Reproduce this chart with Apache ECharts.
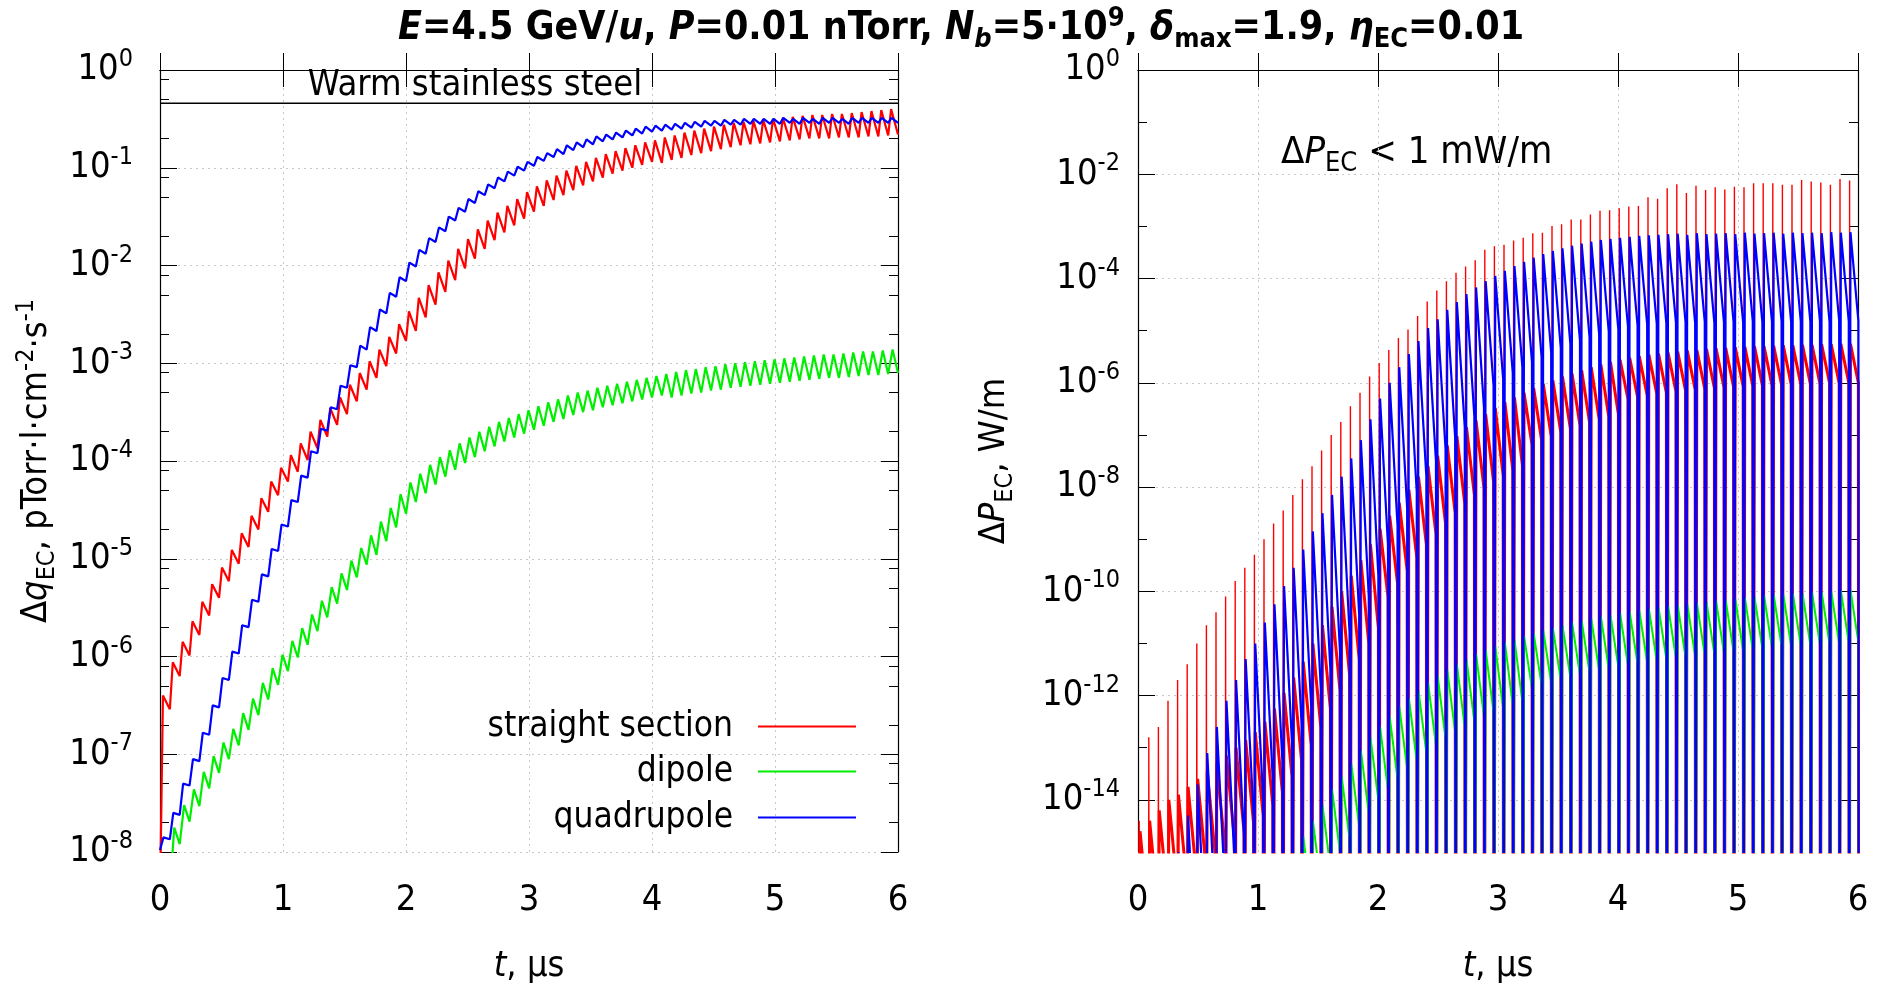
<!DOCTYPE html>
<html>
<head>
<meta charset="utf-8">
<script src="https://cdn.jsdelivr.net/npm/echarts@6/dist/echarts.min.js"></script>
<style>
  html, body { margin: 0; padding: 0; background: #fff; }
  #chart { width: 1886px; height: 990px; }
</style>
</head>
<body>
<div id="chart"></div>
<script>
// Bunch train: one bunch passage every 0.08 µs, 75 bunches over 6 µs.
const T = 0.08;
const ZERO = -20;            // log10 stand-in for zero power (below the plotted range)
const warmSteel = -0.34;     // log10 of the warm stainless steel reference level

// ---- Left panel: log10(Δq_EC), value at the top of each bump and just before the next bunch ----
const ssStart = -8.5, dipStart = -8.8, quadStart = -7.98;
const ssTop = [
  -6.40,-6.06,-5.85,-5.64,-5.44,-5.26,-5.09,-4.91,-4.74,-4.56,
  -4.38,-4.21,-4.07,-3.94,-3.82,-3.70,-3.58,-3.46,-3.35,-3.22,
  -3.10,-2.98,-2.86,-2.73,-2.60,-2.47,-2.33,-2.20,-2.07,-1.95,
  -1.83,-1.73,-1.63,-1.54,-1.46,-1.39,-1.32,-1.25,-1.19,-1.13,
  -1.08,-1.03,-0.98,-0.94,-0.90,-0.86,-0.83,-0.80,-0.77,-0.74,
  -0.72,-0.69,-0.67,-0.64,-0.62,-0.60,-0.58,-0.56,-0.54,-0.53,
  -0.52,-0.51,-0.50,-0.49,-0.48,-0.47,-0.46,-0.46,-0.45,-0.45,
  -0.44,-0.43,-0.42,-0.41,-0.40];
const ssLow = [
  -6.54,-6.20,-5.99,-5.78,-5.58,-5.40,-5.23,-5.05,-4.88,-4.70,
  -4.52,-4.35,-4.21,-4.11,-3.99,-3.87,-3.75,-3.63,-3.52,-3.39,
  -3.27,-3.15,-3.03,-2.90,-2.77,-2.67,-2.53,-2.40,-2.27,-2.15,
  -2.03,-1.93,-1.83,-1.74,-1.66,-1.59,-1.52,-1.45,-1.39,-1.33,
  -1.28,-1.23,-1.18,-1.14,-1.10,-1.06,-1.03,-1.00,-0.97,-0.94,
  -0.95,-0.92,-0.90,-0.87,-0.85,-0.83,-0.81,-0.79,-0.77,-0.76,
  -0.75,-0.74,-0.73,-0.72,-0.71,-0.70,-0.70,-0.70,-0.69,-0.69,
  -0.69,-0.68,-0.68,-0.67,-0.66];
const dipTop = [
  -8.60,-7.75,-7.52,-7.36,-7.18,-7.02,-6.88,-6.74,-6.58,-6.43,
  -6.27,-6.12,-5.98,-5.84,-5.71,-5.57,-5.43,-5.29,-5.15,-5.02,
  -4.89,-4.76,-4.62,-4.48,-4.34,-4.22,-4.13,-4.04,-3.96,-3.89,
  -3.82,-3.76,-3.70,-3.65,-3.60,-3.56,-3.52,-3.48,-3.44,-3.40,
  -3.37,-3.33,-3.30,-3.28,-3.25,-3.23,-3.21,-3.19,-3.17,-3.15,
  -3.13,-3.11,-3.09,-3.07,-3.06,-3.04,-3.03,-3.01,-3.00,-2.99,
  -2.98,-2.97,-2.96,-2.95,-2.94,-2.93,-2.92,-2.91,-2.91,-2.90,
  -2.89,-2.88,-2.88,-2.87,-2.86];
const dipLow = [
  -8.40,-7.92,-7.69,-7.53,-7.35,-7.19,-7.05,-6.91,-6.75,-6.60,
  -6.44,-6.29,-6.15,-6.01,-5.88,-5.74,-5.60,-5.46,-5.32,-5.19,
  -5.06,-4.96,-4.82,-4.68,-4.54,-4.42,-4.33,-4.24,-4.16,-4.09,
  -4.02,-3.96,-3.90,-3.85,-3.80,-3.76,-3.72,-3.68,-3.64,-3.60,
  -3.57,-3.53,-3.50,-3.48,-3.45,-3.43,-3.41,-3.39,-3.37,-3.35,
  -3.33,-3.35,-3.33,-3.31,-3.30,-3.28,-3.27,-3.25,-3.24,-3.23,
  -3.22,-3.21,-3.20,-3.19,-3.18,-3.17,-3.16,-3.15,-3.15,-3.14,
  -3.13,-3.12,-3.12,-3.11,-3.10];
const quadTop = [
  -7.85,-7.60,-7.30,-7.05,-6.78,-6.50,-6.22,-5.95,-5.68,-5.42,
  -5.16,-4.90,-4.65,-4.40,-4.15,-3.90,-3.67,-3.45,-3.23,-3.02,
  -2.82,-2.63,-2.45,-2.28,-2.12,-1.97,-1.84,-1.72,-1.61,-1.50,
  -1.41,-1.32,-1.24,-1.17,-1.10,-1.04,-0.99,-0.94,-0.89,-0.85,
  -0.81,-0.77,-0.74,-0.71,-0.68,-0.66,-0.64,-0.62,-0.60,-0.58,
  -0.57,-0.56,-0.55,-0.54,-0.53,-0.52,-0.52,-0.51,-0.51,-0.50,
  -0.50,-0.50,-0.50,-0.49,-0.50,-0.49,-0.50,-0.49,-0.49,-0.50,
  -0.49,-0.49,-0.49,-0.49,-0.49];
const quadLow = [
  -7.87,-7.62,-7.32,-7.07,-6.80,-6.52,-6.24,-5.97,-5.70,-5.44,
  -5.18,-4.92,-4.67,-4.42,-4.17,-3.92,-3.69,-3.47,-3.25,-3.04,
  -2.86,-2.67,-2.49,-2.32,-2.16,-2.01,-1.88,-1.76,-1.65,-1.54,
  -1.45,-1.36,-1.28,-1.21,-1.14,-1.08,-1.03,-0.98,-0.93,-0.89,
  -0.86,-0.82,-0.79,-0.76,-0.73,-0.71,-0.69,-0.67,-0.65,-0.63,
  -0.62,-0.61,-0.60,-0.59,-0.58,-0.57,-0.57,-0.56,-0.56,-0.55,
  -0.55,-0.55,-0.55,-0.54,-0.55,-0.54,-0.55,-0.54,-0.54,-0.55,
  -0.54,-0.54,-0.54,-0.54,-0.54];

// ---- Right panel: log10(ΔP_EC) per bunch ----
const ssSpike = [
  -14.4,-12.8,-12.6,-12.1,-11.7,-11.4,-11.0,-10.65,-10.4,-10.1,
  -9.8,-9.55,-9.3,-9.0,-8.7,-8.45,-8.15,-7.85,-7.6,-7.3,
  -7.0,-6.75,-6.45,-6.19,-5.88,-5.62,-5.37,-5.14,-4.98,-4.72,
  -4.44,-4.23,-4.05,-3.89,-3.77,-3.65,-3.45,-3.38,-3.35,-3.27,
  -3.22,-3.13,-3.12,-2.99,-2.96,-2.87,-2.87,-2.77,-2.70,-2.69,
  -2.65,-2.62,-2.61,-2.44,-2.47,-2.27,-2.19,-2.36,-2.22,-2.30,
  -2.25,-2.29,-2.24,-2.25,-2.17,-2.17,-2.17,-2.20,-2.20,-2.11,
  -2.14,-2.16,-2.20,-2.09,-2.12];
const ssBodyTop = [
  -14.6,-14.4,-14.2,-14.0,-13.9,-13.75,-13.6,-13.45,-13.3,-13.15,
  -13.0,-12.85,-12.7,-12.5,-12.25,-11.95,-11.65,-11.35,-11.0,-10.65,
  -10.3,-10.0,-9.7,-9.4,-9.1,-8.8,-8.55,-8.3,-8.05,-7.8,
  -7.6,-7.4,-7.2,-7.02,-6.85,-6.72,-6.6,-6.48,-6.37,-6.28,
  -6.19,-6.1,-6.02,-5.95,-5.88,-5.82,-5.76,-5.7,-5.65,-5.6,
  -5.56,-5.52,-5.49,-5.46,-5.44,-5.42,-5.40,-5.38,-5.37,-5.35,
  -5.34,-5.33,-5.32,-5.31,-5.30,-5.30,-5.29,-5.28,-5.28,-5.27,
  -5.27,-5.26,-5.26,-5.25,-5.25];
const ssBodyLow = [
  -16.2,-16.0,-15.8,-15.6,-15.5,-15.35,-15.2,-15.05,-14.9,-14.75,
  -14.6,-14.45,-14.3,-14.1,-13.85,-13.55,-13.25,-12.95,-12.6,-12.25,
  -11.9,-11.6,-11.3,-11.0,-10.7,-10.1,-9.85,-9.6,-9.35,-9.1,
  -8.9,-8.7,-8.5,-8.32,-8.15,-8.02,-7.9,-7.78,-7.67,-7.58,
  -7.19,-7.1,-7.02,-6.95,-6.88,-6.82,-6.76,-6.7,-6.65,-6.6,
  -6.31,-6.27,-6.24,-6.21,-6.19,-6.17,-6.15,-6.13,-6.12,-6.10,
  -6.09,-6.08,-6.07,-6.06,-6.05,-6.05,-6.04,-6.03,-6.03,-6.02,
  -6.02,-6.01,-6.01,-6.00,-6.00];
const dipPTop = [
  -18,-18,-18,-18,-18,-18,-18,-17.5,-17,-16.7,
  -16.4,-16.1,-15.9,-15.7,-15.5,-15.3,-15.0,-14.7,-14.4,-14.1,
  -13.8,-13.55,-13.3,-13.05,-12.8,-12.6,-12.4,-12.2,-12.05,-11.9,
  -11.75,-11.62,-11.5,-11.4,-11.3,-11.2,-11.12,-11.05,-10.98,-10.92,
  -10.86,-10.8,-10.75,-10.7,-10.65,-10.6,-10.56,-10.52,-10.48,-10.45,
  -10.42,-10.39,-10.36,-10.33,-10.3,-10.28,-10.26,-10.24,-10.22,-10.2,
  -10.18,-10.16,-10.14,-10.12,-10.1,-10.08,-10.06,-10.05,-10.04,-10.03,
  -10.02,-10.01,-10.0,-9.98,-9.97];
const dipPLow = [
  -19.2,-19.2,-19.2,-19.2,-19.2,-19.2,-19.2,-18.7,-18.2,-17.9,
  -17.6,-17.3,-17.1,-16.9,-16.7,-16.5,-16.2,-15.9,-15.6,-15.3,
  -15.0,-14.75,-14.5,-14.25,-14.0,-13.8,-13.6,-13.4,-13.25,-13.1,
  -12.95,-12.82,-12.7,-12.6,-12.5,-12.4,-12.32,-12.25,-12.18,-12.12,
  -11.86,-11.8,-11.75,-11.7,-11.65,-11.6,-11.56,-11.52,-11.48,-11.45,
  -11.42,-11.39,-11.36,-11.33,-11.3,-11.28,-11.26,-11.24,-11.22,-11.2,
  -11.18,-11.16,-11.14,-11.12,-11.1,-11.08,-11.06,-11.05,-11.04,-11.03,
  -11.02,-11.01,-11.0,-10.98,-10.97];
const quadPTop = [
  -17.0,-16.5,-16.0,-15.5,-15.0,-14.3,-13.7,-13.1,-12.6,-12.1,
  -11.7,-11.3,-11.0,-10.6,-10.25,-9.9,-9.55,-9.2,-8.85,-8.5,
  -8.15,-7.8,-7.45,-7.1,-6.7,-6.3,-6.0,-5.7,-5.45,-5.2,
  -4.95,-4.78,-4.6,-4.45,-4.3,-4.17,-4.05,-3.95,-3.85,-3.76,
  -3.68,-3.6,-3.53,-3.47,-3.42,-3.37,-3.33,-3.29,-3.26,-3.24,
  -3.22,-3.2,-3.18,-3.17,-3.16,-3.15,-3.14,-3.16,-3.13,-3.15,
  -3.14,-3.13,-3.15,-3.12,-3.14,-3.13,-3.12,-3.14,-3.12,-3.13,
  -3.12,-3.13,-3.11,-3.12,-3.11];
const quadPLow = [
  -20,-19.5,-19,-18.5,-18,-17.3,-16.7,-16.1,-15.6,-15.1,
  -14.7,-14.3,-14.0,-13.6,-13.25,-12.9,-12.55,-12.2,-11.85,-11.5,
  -11.15,-10.8,-10.45,-10.1,-9.7,-9.1,-8.75,-8.4,-8.1,-7.8,
  -7.5,-7.28,-7.05,-6.85,-6.65,-6.47,-6.05,-5.93,-5.81,-5.7,
  -5.6,-5.5,-5.41,-5.33,-5.26,-5.19,-5.13,-5.07,-5.02,-4.98,
  -4.92,-4.9,-4.88,-4.87,-4.86,-4.85,-4.84,-4.86,-4.83,-4.85,
  -4.84,-4.83,-4.85,-4.82,-4.84,-4.83,-4.82,-4.84,-4.82,-4.83,
  -4.82,-4.83,-4.81,-4.82,-4.81];

// Tick labels
const qTicks = [0, -1, -2, -3, -4, -5, -6, -7, -8];
const pTicks = [0, -2, -4, -6, -8, -10, -12, -14];
const pOddTicks = [-1, -3, -5, -7, -9, -11, -13];

// ---- Build line data ----
// Left panel: rise from the previous low to the bump top, then relax to the next low.
function bumpTrain(start, tops, lows, rise) {
  const pts = [[0, start]];
  tops.forEach((v, i) => {
    const t = i * T;
    if (i > 0) pts.push([t, lows[i - 1]]);
    pts.push([t + rise * T, v]);
  });
  pts.push([tops.length * T, lows[lows.length - 1]]);
  return pts;
}
// Right panel: each bunch period follows a pattern of [time offset, value source].
function pulseTrain(n, pattern) {
  const pts = [];
  for (let i = 0; i < n; i++) {
    const t = i * T;
    pattern.forEach(([dt, src]) => pts.push([t + dt, typeof src === 'number' ? src : src[i]]));
  }
  return pts;
}

const FONT = "'DejaVu Sans Condensed','Liberation Sans Narrow','DejaVu Sans',sans-serif";
const RED = '#ff0000', GREEN = '#00ee00', BLUE = '#0000ff';

const tickRich = {
  b: { fontSize: 36, fontFamily: FONT, color: '#000', lineHeight: 46 },
  s: { fontSize: 25, fontFamily: FONT, color: '#000', verticalAlign: 'top', lineHeight: 30 }
};
const nameRich = {
  n: { fontSize: 36, fontFamily: FONT, color: '#000', lineHeight: 46 },
  d: { fontSize: 36, fontFamily: FONT, color: '#000', lineHeight: 46 },
  i: { fontSize: 36, fontFamily: FONT, color: '#000', fontStyle: 'italic', lineHeight: 46 },
  sub: { fontSize: 25, fontFamily: FONT, color: '#000', verticalAlign: 'bottom', lineHeight: 34 },
  sup: { fontSize: 25, fontFamily: FONT, color: '#000', verticalAlign: 'top', lineHeight: 30 }
};
const noteRich = {
  n: { fontSize: 38, fontFamily: FONT, color: '#000', lineHeight: 48 },
  i: { fontSize: 38, fontFamily: FONT, color: '#000', fontStyle: 'italic', lineHeight: 48 },
  sub: { fontSize: 27, fontFamily: FONT, color: '#000', verticalAlign: 'bottom', lineHeight: 34 }
};
const titleRich = {
  b: { fontSize: 39, fontFamily: FONT, fontWeight: 'bold', color: '#000', lineHeight: 48 },
  i: { fontSize: 39, fontFamily: FONT, fontWeight: 'bold', fontStyle: 'italic', color: '#000', lineHeight: 48 },
  sub: { fontSize: 27, fontFamily: FONT, fontWeight: 'bold', color: '#000', verticalAlign: 'bottom', lineHeight: 34 },
  isub: { fontSize: 27, fontFamily: FONT, fontWeight: 'bold', fontStyle: 'italic', color: '#000', verticalAlign: 'bottom', lineHeight: 34 },
  sup: { fontSize: 27, fontFamily: FONT, fontWeight: 'bold', color: '#000', verticalAlign: 'top', lineHeight: 30 }
};

const expLabel = v => '{b|10}{s|' + v + '}';
const grid = (left, width) => ({ left, top: 70, width, height: 784 });

const decadeMinors = [];
for (let k = -8; k < 0; k++) [2, 5, 8].forEach(m => decadeMinors.push(k + Math.log10(m)));

function xAxes(gridIndex) {
  return [
    {
      gridIndex, type: 'value', min: 0, max: 6, interval: 1, position: 'bottom',
      name: '{i|t}{n|, µs}', nameLocation: 'middle', nameGap: 92,
      nameTextStyle: { rich: nameRich },
      axisLine: { show: true, lineStyle: { color: '#000', width: 1.2 } },
      axisTick: { inside: true, length: 17, lineStyle: { color: '#000' } },
      axisLabel: { margin: 31, fontSize: 36, fontFamily: FONT, color: '#000', formatter: v => String(v) },
      splitLine: { show: true, lineStyle: { color: '#c8c8c8', type: [2, 4], width: 1 } }
    },
    {
      gridIndex, type: 'value', min: 0, max: 6, interval: 1, position: 'top',
      axisLine: { show: true, lineStyle: { color: '#000', width: 1.2 } },
      axisTick: { inside: true, length: 17, lineStyle: { color: '#000' } },
      axisLabel: { show: false }, splitLine: { show: false }
    }
  ];
}

function yAxes(gridIndex, cfg) {
  const base = { gridIndex, type: 'value', min: cfg.min, max: cfg.max };
  const major = {
    ...base, position: 'left',
    name: cfg.name, nameLocation: 'middle', nameGap: cfg.nameGap, nameRotate: 90,
    nameTextStyle: { rich: nameRich },
    axisLine: { show: true, lineStyle: { color: '#000', width: 1.2 } },
    axisTick: { inside: true, length: 17, customValues: cfg.major, lineStyle: { color: '#000' } },
    axisLabel: { margin: cfg.labelMargin, customValues: cfg.major, formatter: expLabel, rich: tickRich },
    splitLine: { show: true, lineStyle: { color: '#c8c8c8', type: [2, 4], width: 1 } }
  };
  const minor = {
    ...base, position: 'left',
    axisLine: { show: false },
    axisTick: { inside: true, length: 9, customValues: cfg.minor, lineStyle: { color: '#000' } },
    axisLabel: { show: false }, splitLine: { show: false }
  };
  const majorR = {
    ...base, position: 'right',
    axisLine: { show: true, lineStyle: { color: '#000', width: 1.2 } },
    axisTick: { inside: true, length: 17, customValues: cfg.major, lineStyle: { color: '#000' } },
    axisLabel: { show: false }, splitLine: { show: false }
  };
  const minorR = { ...minor, position: 'right' };
  return [major, minor, majorR, minorR];
}

const lineBase = { type: 'line', showSymbol: false, symbol: 'none', animation: false, silent: true, clip: true };

// Zero crossings shared by all three right-panel traces, so the quadrupole bars cover the others.
const down = [0.083, 0.086], up = [0.014, 0.017];

const option = {
  animation: false,
  backgroundColor: '#fff',
  grid: [grid(160, 738), grid(1138, 720)],
  xAxis: [...xAxes(0), ...xAxes(1)],
  yAxis: [
    ...yAxes(0, {
      min: -8, max: 0, major: qTicks, minor: decadeMinors, nameGap: 100, labelMargin: 27,
      name: '{d|Δ}{i|q}{sub|EC}{n|, pTorr·l·cm}{sup|-2}{n|·s}{sup|-1}'
    }),
    ...yAxes(1, {
      min: -15, max: 0, major: pTicks, minor: pOddTicks, nameGap: 120, labelMargin: 18,
      name: '{d|Δ}{i|P}{sub|EC}{n|, W/m}'
    })
  ],
  legend: [
    ['straight section', 709], ['dipole', 754], ['quadrupole', 800]
  ].map(([name, top]) => ({
    data: [name], right: 1030, top, orient: 'vertical', align: 'right', padding: 0,
    icon: 'rect', itemWidth: 98, itemHeight: 2, selectedMode: false,
    formatter: s => s + '  ',
    textStyle: { fontSize: 35, fontFamily: FONT, color: '#000' }
  })),
  series: [
    { ...lineBase, name: 'Warm stainless steel', xAxisIndex: 0, yAxisIndex: 0,
      data: [[0, warmSteel], [6, warmSteel]], lineStyle: { color: '#000', width: 1.5 } },
    { ...lineBase, name: 'straight section', xAxisIndex: 0, yAxisIndex: 0,
      data: bumpTrain(ssStart, ssTop, ssLow, 0.3), lineStyle: { color: RED, width: 2.2 }, itemStyle: { color: RED } },
    { ...lineBase, name: 'dipole', xAxisIndex: 0, yAxisIndex: 0,
      data: bumpTrain(dipStart, dipTop, dipLow, 0.45), lineStyle: { color: GREEN, width: 2.2 }, itemStyle: { color: GREEN } },
    { ...lineBase, name: 'quadrupole', xAxisIndex: 0, yAxisIndex: 0,
      data: bumpTrain(quadStart, quadTop, quadLow, 0.35), lineStyle: { color: BLUE, width: 2.2 }, itemStyle: { color: BLUE } },

    // Right panel: straight-section spikes at each bunch passage, then the decaying body
    { ...lineBase, name: 'straight section', xAxisIndex: 2, yAxisIndex: 4,
      data: pulseTrain(ssSpike.length, [[0.007, ZERO], [0.010, ssSpike], [0.013, ZERO]]),
      lineStyle: { color: RED, width: 1.4 }, itemStyle: { color: RED } },
    { ...lineBase, name: 'straight section', xAxisIndex: 2, yAxisIndex: 4,
      data: pulseTrain(ssBodyTop.length, [[up[0], ZERO], [up[1], ssBodyTop], [down[0], ssBodyLow], [down[1], ZERO]]),
      lineStyle: { color: RED, width: 3 }, itemStyle: { color: RED } },
    { ...lineBase, name: 'dipole', xAxisIndex: 2, yAxisIndex: 4,
      data: pulseTrain(dipPTop.length, [[up[0], ZERO], [up[1], dipPTop], [down[0], dipPLow], [down[1], ZERO]]),
      lineStyle: { color: GREEN, width: 2 }, itemStyle: { color: GREEN } },
    { ...lineBase, name: 'quadrupole', xAxisIndex: 2, yAxisIndex: 4,
      data: pulseTrain(quadPTop.length, [[up[0], ZERO], [up[1], quadPTop], [down[0], quadPLow], [down[1], ZERO]]),
      lineStyle: { color: BLUE, width: 2.2 }, itemStyle: { color: BLUE } }
  ],
  graphic: [
    { type: 'text', x: 961, y: 29,
      style: { text: '{i|E}{b|=4.5 GeV/}{i|u}{b|, }{i|P}{b|=0.01 nTorr, }{i|N}{isub|b}{b|=5·10}{sup|9}{b|, }{i|δ}{sub|max}{b|=1.9, }{i|η}{sub|EC}{b|=0.01}',
        rich: titleRich, align: 'center', verticalAlign: 'middle', textAlign: 'center', textVerticalAlign: 'middle' } },
    { type: 'text', x: 475, y: 86,
      style: { text: 'Warm stainless steel', fontSize: 36, fontFamily: FONT, fill: '#000',
        align: 'center', verticalAlign: 'middle', textAlign: 'center', textVerticalAlign: 'middle' } },
    { type: 'text', x: 1281, y: 153,
      style: { text: '{n|Δ}{i|P}{sub|EC}{n| < 1 mW/m}', rich: noteRich,
        align: 'left', verticalAlign: 'middle', textAlign: 'left', textVerticalAlign: 'middle' } }
  ]
};

const chart = echarts.init(document.getElementById('chart'), null, { renderer: 'canvas' });
chart.setOption(option);
</script>
</body>
</html>
